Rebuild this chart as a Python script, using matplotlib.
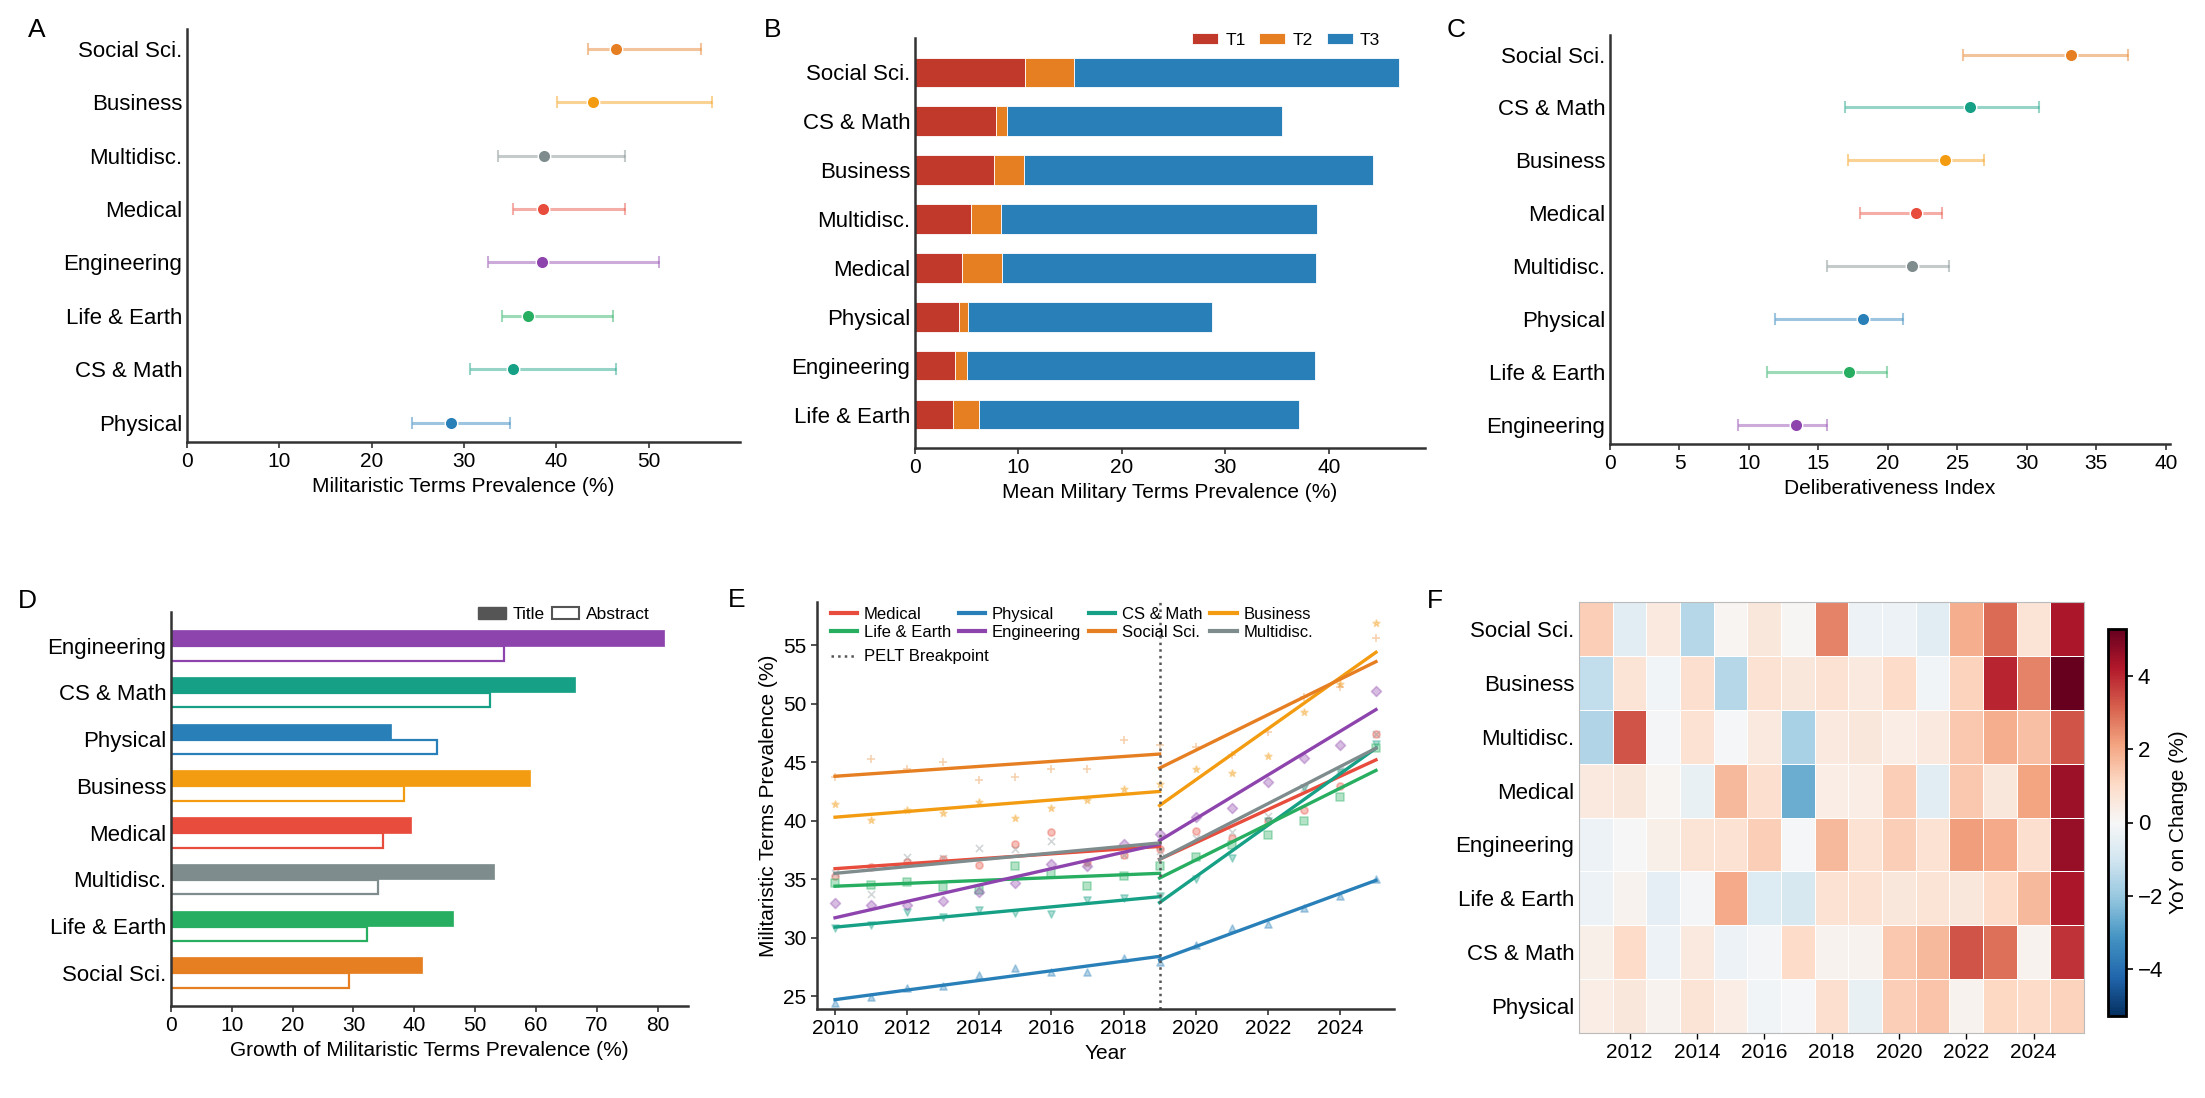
import numpy as np
import matplotlib.pyplot as plt
from matplotlib.patches import Patch
from matplotlib.lines import Line2D

plt.rcParams['font.family'] = ['Liberation Sans', 'DejaVu Sans']

# ---------------- data ----------------
colors = {"Medical": "#e74c3c", "Physical": "#2980b9", "CS & Math": "#16a085",
          "Business": "#f39c12", "Life & Earth": "#27ae60", "Engineering": "#8e44ad",
          "Social Sci.": "#e67e22", "Multidisc.": "#7f8c8d"}

# A: militaristic prevalence, mean with interval
catsA = ["Social Sci.", "Business", "Multidisc.", "Medical", "Engineering",
         "Life & Earth", "CS & Math", "Physical"]
meanA = [46.5, 44.0, 38.7, 38.6, 38.5, 36.9, 35.3, 28.6]
loA = [43.4, 40.1, 33.7, 35.3, 32.6, 34.1, 30.6, 24.4]
hiA = [55.7, 56.9, 47.4, 47.4, 51.1, 46.1, 46.5, 35.0]

# B: stacked T1/T2/T3
catsB = ["Social Sci.", "CS & Math", "Business", "Multidisc.", "Medical",
         "Physical", "Engineering", "Life & Earth"]
t1 = [10.6, 7.8, 7.6, 5.4, 4.5, 4.3, 3.9, 3.7]
t2 = [4.8, 1.1, 2.9, 2.9, 3.9, 0.8, 1.1, 2.5]
t3 = [31.4, 26.6, 33.8, 30.6, 30.4, 23.6, 33.7, 30.9]

# C: deliberativeness index
catsC = ["Social Sci.", "CS & Math", "Business", "Medical", "Multidisc.",
         "Physical", "Life & Earth", "Engineering"]
meanC = [33.2, 25.9, 24.1, 22.0, 21.7, 18.2, 17.2, 13.4]
loC = [25.4, 16.9, 17.1, 18.0, 15.6, 11.9, 11.3, 9.2]
hiC = [37.3, 30.9, 26.9, 23.9, 24.4, 21.1, 19.9, 15.6]

# D: growth title vs abstract
catsD = ["Engineering", "CS & Math", "Physical", "Business", "Medical",
         "Multidisc.", "Life & Earth", "Social Sci."]
growth_title = [81.1, 66.5, 36.2, 59.1, 39.5, 53.1, 46.3, 41.3]
growth_abstract = [54.8, 52.4, 43.8, 38.3, 34.9, 34.1, 32.2, 29.2]

# E: yearly prevalence + segmented trends
years = np.arange(2010, 2026)
breakpoint_year = 2019
yearly = {
    "Medical":      [35.3, 36.0, 36.5, 36.7, 36.2, 38.0, 39.0, 36.5, 37.1, 37.6, 39.1, 38.5, 40.0, 40.9, 43.0, 47.4],
    "Physical":     [24.4, 24.9, 25.7, 25.9, 26.8, 27.4, 27.1, 27.1, 28.3, 27.9, 29.4, 30.8, 31.2, 32.5, 33.6, 35.0],
    "CS & Math":    [30.8, 31.1, 32.2, 31.8, 32.4, 32.1, 32.0, 33.2, 33.4, 33.6, 35.0, 36.8, 40.0, 42.8, 44.2, 46.6],
    "Business":     [41.4, 40.1, 40.9, 40.7, 41.6, 40.2, 41.1, 41.8, 42.7, 43.1, 44.4, 44.1, 45.5, 49.3, 51.7, 56.9],
    "Life & Earth": [34.7, 34.5, 34.8, 34.3, 34.1, 36.1, 35.5, 34.4, 35.3, 36.1, 36.9, 37.9, 38.8, 40.0, 42.0, 46.2],
    "Engineering":  [33.0, 32.8, 32.8, 33.1, 33.9, 34.7, 36.3, 36.1, 38.0, 38.9, 40.3, 41.1, 43.3, 45.4, 46.5, 51.1],
    "Social Sci.":  [43.7, 45.3, 44.4, 45.0, 43.5, 43.7, 44.4, 44.4, 46.9, 46.5, 46.3, 45.6, 47.6, 50.6, 51.4, 55.6],
    "Multidisc.":   [35.5, 33.7, 36.9, 36.8, 37.7, 37.6, 38.3, 36.3, 37.1, 37.4, 38.5, 39.0, 40.4, 42.8, 44.3, 47.4],
}
# fitted segment values: [2010, 2019] before break, [2019, 2025] after
trend_pre = {"Medical": [35.9, 37.8], "Physical": [24.7, 28.4], "CS & Math": [30.9, 33.5],
             "Business": [40.3, 42.5], "Life & Earth": [34.4, 35.5], "Engineering": [31.7, 38.0],
             "Social Sci.": [43.8, 45.7], "Multidisc.": [35.5, 38.1]}
trend_post = {"Medical": [36.7, 45.2], "Physical": [28.1, 34.9], "CS & Math": [33.0, 46.2],
              "Business": [41.3, 54.4], "Life & Earth": [35.1, 44.3], "Engineering": [38.3, 49.5],
              "Social Sci.": [44.5, 53.6], "Multidisc.": [36.7, 46.2]}
markers = {"Medical": "o", "Physical": "^", "CS & Math": "v", "Business": "*",
           "Life & Earth": "s", "Engineering": "D", "Social Sci.": "+", "Multidisc.": "x"}

# F: YoY change heatmap
rowsF = ["Social Sci.", "Business", "Multidisc.", "Medical", "Engineering",
         "Life & Earth", "CS & Math", "Physical"]
yearsF = np.arange(2011, 2026)
yoy = np.array([
    [1.3, -0.6, 0.5, -1.5, 0.1, 0.6, 0.05, 2.6, -0.3, -0.3, -0.6, 1.9, 3.0, 0.7, 4.3],
    [-1.3, 0.7, -0.2, 0.9, -1.5, 0.8, 0.6, 0.8, 0.5, 1.0, -0.2, 1.2, 4.0, 2.6, 5.27],
    [-1.6, 3.3, -0.1, 0.8, -0.05, 0.5, -1.7, 0.5, 0.6, 0.4, 0.5, 1.4, 1.9, 1.6, 3.3],
    [0.5, 0.6, 0.1, -0.4, 1.7, 0.9, -2.6, 0.4, 0.4, 1.3, -0.6, 1.4, 0.6, 2.1, 4.5],
    [-0.3, 0.0, 0.3, 0.7, 0.8, 1.3, -0.05, 1.7, 0.8, 1.3, 0.8, 2.2, 2.0, 0.9, 4.6],
    [-0.3, 0.2, -0.5, -0.1, 2.0, -0.7, -0.9, 0.8, 0.8, 0.6, 0.7, 0.6, 1.0, 1.7, 4.3],
    [0.3, 1.0, -0.3, 0.5, -0.3, -0.1, 1.0, 0.2, 0.2, 1.4, 1.7, 3.3, 2.9, 0.2, 3.8],
    [0.4, 0.6, 0.2, 0.7, 0.4, -0.2, -0.05, 0.9, -0.4, 1.3, 1.5, 0.2, 1.1, 1.0, 1.2],
])

# ---------------- layout ----------------
W, H = 2205, 1098
fig = plt.figure(figsize=(W / 100, H / 100), dpi=100)


def box(l, t, r, b):
    return [l / W, 1 - b / H, (r - l) / W, (b - t) / H]


def style(ax, ytick_len=0):
    for s in ['top', 'right']:
        ax.spines[s].set_visible(False)
    for s in ['left', 'bottom']:
        ax.spines[s].set_linewidth(1.8)
        ax.spines[s].set_color('#333333')
    ax.tick_params(axis='x', length=4, width=1.2, color='#333333', labelsize=15)
    ax.tick_params(axis='y', length=ytick_len, width=1.2, color='#333333', labelsize=16)


def letter(x, y, s):
    fig.text(x / W, 1 - y / H, s, fontsize=19, ha='left', va='baseline')


def dotplot(ax, cats, mean, lo, hi):
    for i, c in enumerate(cats):
        col = colors[c]
        ax.errorbar(mean[i], i, xerr=[[mean[i] - lo[i]], [hi[i] - mean[i]]], fmt='none',
                    ecolor=col, alpha=0.45, elinewidth=2.2, capsize=4, capthick=1.5)
        ax.plot(mean[i], i, 'o', color=col, ms=9, mec='white', mew=1, zorder=3)
    ax.set_yticks(np.arange(len(cats)), cats)
    ax.set_ylim(len(cats) - 0.64, -0.37)


# A
axA = fig.add_axes(box(187, 29, 740, 442))
dotplot(axA, catsA, meanA, loA, hiA)
axA.set_xlim(0, 59.9)
axA.set_xticks(np.arange(0, 51, 10))
axA.set_xlabel("Militaristic Terms Prevalence (%)", fontsize=15)
style(axA)
letter(28, 37, "A")

# B
axB = fig.add_axes(box(915, 38, 1425, 448))
yb = np.arange(len(catsB))
t1a, t2a, t3a = np.array(t1), np.array(t2), np.array(t3)
axB.barh(yb, t1a, height=0.6, color="#c0392b", edgecolor='white', lw=0.6, label="T1")
axB.barh(yb, t2a, left=t1a, height=0.6, color="#e67e22", edgecolor='white', lw=0.6, label="T2")
axB.barh(yb, t3a, left=t1a + t2a, height=0.6, color="#2980b9", edgecolor='white', lw=0.6, label="T3")
axB.set_yticks(yb, catsB)
axB.set_ylim(7.68, -0.7)
axB.set_xlim(0, 49.3)
axB.set_xticks(np.arange(0, 41, 10))
axB.set_xlabel("Mean Military Terms Prevalence (%)", fontsize=15)
axB.legend(loc='upper right', bbox_to_anchor=(0.925, 1.03), ncol=3, frameon=False,
           fontsize=12.5, handlelength=1.5, handleheight=0.6, columnspacing=0.8,
           handletextpad=0.4, borderaxespad=0)
style(axB)
letter(764, 37, "B")

# C
axC = fig.add_axes(box(1610, 35, 2170, 444))
dotplot(axC, catsC, meanC, loC, hiC)
axC.set_xlim(0, 40.3)
axC.set_xticks(np.arange(0, 41, 5))
axC.set_xlabel("Deliberativeness Index", fontsize=15)
style(axC)
letter(1447, 37, "C")

# D
axD = fig.add_axes(box(171, 612, 688, 1006))
yd = np.arange(len(catsD))
for i, c in enumerate(catsD):
    col = colors[c]
    axD.barh(i - 0.165, growth_title[i], height=0.33, color=col, edgecolor=col, lw=0.5)
    axD.barh(i + 0.165, growth_abstract[i], height=0.31, facecolor='white', edgecolor=col, lw=1.6)
axD.set_yticks(yd, catsD)
axD.set_ylim(7.71, -0.72)
axD.set_xlim(0, 85)
axD.set_xticks(np.arange(0, 81, 10))
axD.set_xlabel("Growth of Militaristic Terms Prevalence (%)", fontsize=15)
hD = [Patch(facecolor='#555555', edgecolor='#555555', label='Title'),
      Patch(facecolor='white', edgecolor='#555555', lw=1.5, label='Abstract')]
axD.legend(handles=hD, loc='upper right', bbox_to_anchor=(0.94, 1.03), ncol=2, frameon=False,
           fontsize=12.5, handlelength=1.6, handleheight=0.6, columnspacing=0.4,
           handletextpad=0.4, borderaxespad=0)
style(axD)
letter(18, 608, "D")

# E
axE = fig.add_axes(box(817, 602, 1394, 1009))
handles = {}
for c in colors:
    col = colors[c]
    axE.scatter(years, yearly[c], marker=markers[c], color=col, alpha=0.35, s=26, lw=1.2)
    axE.plot([years[0], breakpoint_year], trend_pre[c], color=col, lw=2.4)
    axE.plot([breakpoint_year, years[-1]], trend_post[c], color=col, lw=2.4)
    handles[c] = Line2D([], [], color=col, lw=3, label=c)
axE.axvline(breakpoint_year, color='#555555', ls=':', lw=1.8)
order = [handles["Medical"], handles["Life & Earth"],
         handles["Physical"], handles["Engineering"],
         handles["CS & Math"], handles["Social Sci."],
         handles["Business"], handles["Multidisc."]]
leg1 = axE.legend(handles=order, loc='upper left', bbox_to_anchor=(0.012, 1.005), ncol=4,
                  frameon=False, fontsize=12, handlelength=1.6, handletextpad=0.4,
                  columnspacing=0.45, labelspacing=0.2, borderaxespad=0)
axE.add_artist(leg1)
pelt = Line2D([], [], color='#555555', ls=':', lw=1.8, label='PELT Breakpoint')
axE.legend(handles=[pelt], loc='upper left', bbox_to_anchor=(0.012, 0.9), frameon=False,
           fontsize=12, handlelength=1.6, handletextpad=0.4, borderaxespad=0)
axE.set_xlim(2009.5, 2025.5)
axE.set_ylim(23.9, 58.7)
axE.set_xticks(np.arange(2010, 2025, 2))
axE.set_yticks(np.arange(25, 56, 5))
axE.set_xlabel("Year", fontsize=15)
axE.set_ylabel("Militaristic Terms Prevalence (%)", fontsize=15)
style(axE, ytick_len=4)
axE.tick_params(axis='y', labelsize=15)
letter(728, 607, "E")

# F
axF = fig.add_axes(box(1579, 602, 2084, 1033))
vm = np.abs(yoy).max()
xe = np.arange(yearsF[0] - 0.5, yearsF[-1] + 1.0, 1.0)
ye = np.arange(len(rowsF) + 1)
mesh = axF.pcolormesh(xe, ye, yoy, cmap='RdBu_r', vmin=-vm, vmax=vm,
                      edgecolors='white', linewidth=0.6)
axF.set_ylim(len(rowsF), 0)
axF.set_yticks(np.arange(len(rowsF)) + 0.5, rowsF)
axF.set_xticks(np.arange(2012, 2025, 2))
axF.tick_params(axis='y', length=0, labelsize=16)
axF.tick_params(axis='x', length=4, width=1, labelsize=15)
for s in axF.spines.values():
    s.set_color('#bbbbbb')
    s.set_linewidth(0.8)
letter(1427, 608, "F")

cax = fig.add_axes(box(2108, 629, 2126, 1016))
cb = fig.colorbar(mesh, cax=cax)
cb.set_ticks([-4, -2, 0, 2, 4])
cb.outline.set_linewidth(2)
cax.tick_params(labelsize=16, length=5, width=1.2)
cax.set_ylabel("YoY on Change (%)", fontsize=15)

plt.savefig("out.png", dpi=100)
